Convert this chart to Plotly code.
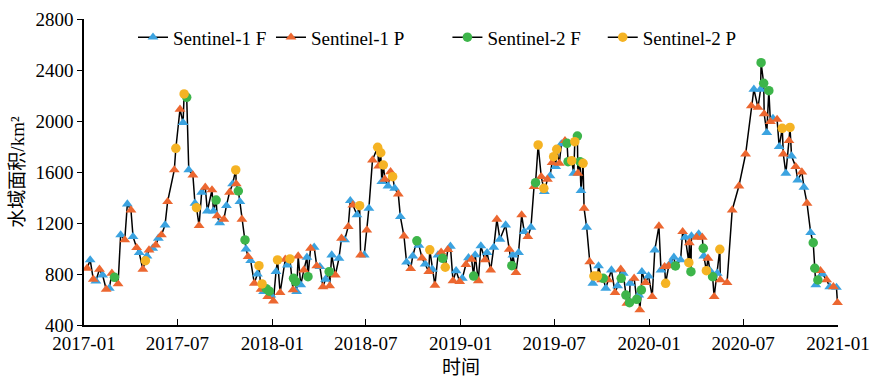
import plotly.graph_objects as go
import pandas as pd

# ---------------- data ----------------
s1f_dates = ["2017-01-13","2017-01-24","2017-02-06","2017-02-19","2017-03-13","2017-03-26","2017-04-06","2017-04-18",
             "2017-05-03","2017-05-14","2017-05-25","2017-06-07","2017-07-12","2017-07-23","2017-08-04","2017-08-17",
             "2017-08-28","2017-09-09","2017-09-21","2017-10-04","2017-10-16","2017-10-30","2017-11-11","2017-11-20",
             "2017-12-03","2017-12-15","2017-12-29","2018-01-08","2018-01-30","2018-02-17","2018-02-25","2018-03-09",
             "2018-03-23","2018-04-03","2018-04-14","2018-04-26","2018-05-10","2018-05-21","2018-06-01","2018-06-14",
             "2018-06-28","2018-07-07","2018-08-01","2018-08-13","2018-08-26","2018-09-06","2018-09-18","2018-09-30",
             "2018-10-12","2018-10-24","2018-11-07","2018-11-18","2018-12-12","2018-12-23","2019-01-04","2019-01-16",
             "2019-01-29","2019-02-09","2019-02-21","2019-03-06","2019-03-18","2019-03-29","2019-04-12","2019-04-23",
             "2019-05-04","2019-05-17","2019-06-12","2019-06-23","2019-07-04","2019-07-15","2019-08-08","2019-08-22",
             "2019-09-02","2019-09-14","2019-09-25","2019-10-09","2019-10-20","2019-11-01","2019-11-12","2019-11-25",
             "2019-12-12","2019-12-18","2019-12-31","2020-01-12","2020-01-24","2020-02-12","2020-02-18","2020-03-02",
             "2020-03-11","2020-03-23","2020-04-06","2020-04-16","2020-04-28","2020-05-12","2020-07-22","2020-08-04",
             "2020-08-16","2020-08-28","2020-09-09","2020-09-22","2020-10-03","2020-10-15","2020-10-27","2020-11-09",
             "2020-11-19","2020-12-02","2020-12-16","2020-12-29"]
s1f_values = [910,745,792,688,1106,1349,1093,967,
              941,1001,1080,1184,1987,1616,1354,1441,
              1294,1294,1202,1336,1506,1367,996,904,
              800,661,635,818,870,661,714,931,
              1009,857,758,949,923,1067,1375,1263,
              949,1315,1524,1490,1472,1250,893,941,
              1024,878,837,949,1017,825,766,927,
              950,1020,967,1009,1072,1184,949,967,
              1132,1166,1446,1569,1642,1820,1590,1453,
              1166,727,863,688,831,706,805,727,
              635,818,784,988,831,889,931,910,
              1088,1098,1114,941,826,805,2249,2249,
              1908,2020,1799,1590,1725,1537,1480,1124,
              714,800,700,695]

s1p_dates = ["2017-01-07","2017-01-19","2017-01-31","2017-02-13","2017-02-24","2017-03-08","2017-03-21","2017-04-02",
             "2017-04-13","2017-04-25","2017-05-07","2017-05-20","2017-05-31","2017-06-12","2017-06-25","2017-07-06",
             "2017-07-31","2017-08-12","2017-08-24","2017-09-06","2017-09-16","2017-09-29","2017-10-10","2017-10-23",
             "2017-11-03","2017-11-15","2017-11-27","2017-12-10","2017-12-23","2018-01-03","2018-01-16","2018-01-26",
             "2018-02-10","2018-02-20","2018-03-03","2018-03-16","2018-03-28","2018-04-09","2018-04-22","2018-05-03",
             "2018-05-15","2018-05-28","2018-06-06","2018-06-21","2018-07-03","2018-07-14","2018-07-26","2018-08-07",
             "2018-08-18","2018-09-02","2018-09-13","2018-09-26","2018-10-18","2018-10-31","2018-11-12","2018-11-24",
             "2018-12-07","2018-12-17","2018-12-30","2019-01-11","2019-01-22","2019-02-04","2019-02-17","2019-02-28",
             "2019-03-12","2019-04-05","2019-04-18","2019-04-29","2019-05-11","2019-05-23","2019-06-06","2019-06-18",
             "2019-06-27","2019-07-11","2019-07-22","2019-08-16","2019-08-28","2019-09-08","2019-10-01","2019-10-14",
             "2019-10-27","2019-11-07","2019-11-19","2019-12-03","2019-12-14","2019-12-25","2020-01-07","2020-01-20",
             "2020-01-31","2020-02-08","2020-03-06","2020-03-19","2020-04-02","2020-04-13","2020-04-24","2020-05-06",
             "2020-05-18","2020-05-31","2020-06-10","2020-06-23","2020-07-06","2020-07-17","2020-07-30","2020-08-11",
             "2020-08-23","2020-09-05","2020-09-17","2020-09-28","2020-10-11","2020-10-23","2020-11-02","2020-11-28",
             "2020-12-10","2020-12-23","2020-12-31"]
s1p_values = [845,758,837,680,805,722,1067,1302,
              1006,837,988,1027,1106,1367,1616,2092,
              1576,1179,1480,1459,1255,1229,1441,1506,
              1229,936,727,680,622,588,653,915,
              675,941,831,1001,863,700,706,792,
              1080,1171,1341,949,1145,1694,1647,1543,
              1602,1427,1098,842,925,818,711,971,
              991,747,740,874,915,747,910,831,
              1229,994,810,1263,1093,1485,1563,1543,
              1673,1668,1846,1590,1315,896,753,753,
              653,837,570,766,518,732,622,1176,
              857,863,1132,1045,1088,1088,923,622,
              753,732,1302,1490,1741,2118,2106,2055,
              1995,2012,1741,1846,1642,1600,1354,826,
              753,700,575]

s2f_dates = ["2017-03-01","2017-07-19","2017-09-14","2017-10-27","2017-11-09","2017-12-20","2017-12-26","2018-02-11",
             "2018-02-15","2018-03-11","2018-04-21","2018-10-08","2018-11-27","2019-01-26","2019-04-10","2019-05-26",
             "2019-07-26","2019-07-28","2019-08-15","2019-08-20","2019-10-04","2019-11-08","2019-11-17","2019-11-24",
             "2019-12-08","2019-12-17","2020-02-21","2020-03-22","2020-04-15","2020-05-03","2020-08-05","2020-08-10",
             "2020-08-20","2020-11-14","2020-11-17","2020-11-23"]
s2f_values = [774,2186,1380,1451,1067,685,665,766,
              740,779,818,1060,923,784,865,1516,
              1825,1681,1882,1681,766,766,635,575,
              601,675,863,818,1001,779,2457,2296,
              2238,1045,845,753]

s2p_dates = ["2017-04-30","2017-06-28","2017-07-14","2017-08-07","2017-10-22","2017-12-06","2017-12-12","2018-01-11",
             "2018-02-04","2018-06-19","2018-07-24","2018-07-30","2018-08-04","2018-08-22","2018-11-02","2018-12-02",
             "2019-05-31","2019-06-11","2019-06-30","2019-07-06","2019-08-04","2019-08-10","2019-08-26","2019-09-16",
             "2019-09-23","2020-02-02","2020-03-18","2020-04-21","2020-05-17","2020-09-15","2020-09-30"]
s2p_values = [904,1786,2212,1320,1616,865,722,910,
              918,1336,1794,1751,1655,1563,990,853,
              1812,1472,1720,1778,1689,1838,1668,784,
              784,727,889,826,994,1943,1950]

series_names = ["Sentinel-1 F", "Sentinel-1 P", "Sentinel-2 F", "Sentinel-2 P"]
y_ticks = [400, 800, 1200, 1600, 2000, 2400, 2800]

# ---------------- styling ----------------
colors = ["#3BA3E0", "#EC6730", "#3DB54A", "#F5B323"]
symbols = ["triangle-up", "triangle-up", "circle", "circle"]
legend_ids = ["legend", "legend2", "legend3", "legend4"]
legend_x = [0.065, 0.248, 0.482, 0.688]
FONT = "Liberation Serif, 'Times New Roman', 'Noto Sans CJK SC', serif"

all_series = [(s1f_dates, s1f_values), (s1p_dates, s1p_values),
              (s2f_dates, s2f_values), (s2p_dates, s2p_values)]

frames = []
for (d, v) in all_series:
    frames.append(pd.DataFrame({"date": pd.to_datetime(d), "value": v}))
combined = pd.concat(frames).sort_values("date")

fig = go.Figure()
fig.add_trace(go.Scatter(x=combined["date"], y=combined["value"], mode="lines",
                         line=dict(color="black", width=1.5), showlegend=False,
                         hoverinfo="skip"))

for (d, v), name, c, s, lg in zip(all_series, series_names, colors, symbols, legend_ids):
    xs, ys = [], []
    for di, vi in zip(d, v):
        xs += [di, di]
        ys += [vi, None]
    fig.add_trace(go.Scatter(x=xs, y=ys, mode="lines+markers", name=name,
                             connectgaps=False, legend=lg,
                             line=dict(color="black", width=1.5),
                             marker=dict(symbol=s, color=c, size=9.5,
                                         line=dict(width=0)),
                             cliponaxis=False))

legend_common = dict(orientation="h", y=0.94, xanchor="left", yanchor="middle",
                     font=dict(size=19, family=FONT), bgcolor="rgba(0,0,0,0)",
                     itemwidth=30)
layout_legends = {}
for lg, lx in zip(legend_ids, legend_x):
    layout_legends[lg] = dict(legend_common, x=lx)

fig.update_layout(
    width=874, height=379,
    margin=dict(l=84, r=36, t=19, b=54, autoexpand=False),
    paper_bgcolor="white", plot_bgcolor="white",
    font=dict(family=FONT, size=19, color="black"),
    **layout_legends,
)
fig.update_xaxes(
    type="date", range=["2017-01-01", "2021-01-01"], automargin=False,
    tick0="2017-01-01", dtick="M6", tickformat="%Y-%m",
    showline=True, linecolor="black", linewidth=1.5,
    ticks="inside", ticklen=6, tickcolor="black", tickwidth=1.2,
    showgrid=False, zeroline=False,
    tickfont=dict(size=19, family=FONT),
    title=dict(text="时间", font=dict(size=19, family=FONT), standoff=8),
)
fig.update_yaxes(
    range=[400, 2800], tickvals=y_ticks, automargin=False,
    showline=True, linecolor="black", linewidth=1.5,
    ticks="outside", ticklen=5, tickcolor="black", tickwidth=1.2,
    showgrid=False, zeroline=False,
    tickfont=dict(size=19, family=FONT),
    title=dict(text="水域面积/km²", font=dict(size=19, family=FONT), standoff=6),
)

fig.write_html("out.html")
